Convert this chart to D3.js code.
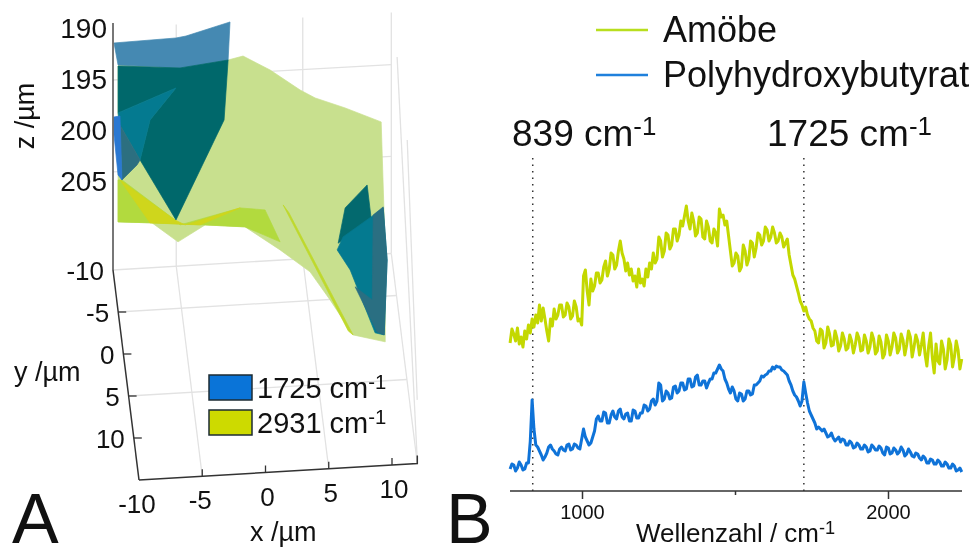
<!DOCTYPE html>
<html lang="de">
<head>
<meta charset="UTF-8">
<title>Raman</title>
<script src="https://cdnjs.cloudflare.com/ajax/libs/d3/7.8.5/d3.min.js"></script>
<style>
  html, body { margin: 0; background: #fff; }
  svg { display: block; filter: blur(0.4px); }
  text { font-family: "Liberation Sans", Arial, sans-serif; fill: #111; }
</style>
</head>
<body>
<div id="chart"></div>
<script>
// spectra: intensity (a.u.), one value every 6 cm-1 from 765 cm-1
var startWavenumber = 765;
var stepWavenumber = 6;
var amoebe = [
148,162,157,150,163,147,154,144,160,152,
166,158,172,164,176,168,186,170,183,172,
160,150,172,165,182,172,176,186,186,174,
176,188,184,172,175,190,184,170,172,166,
215,221,200,186,212,200,205,218,218,208,
211,224,230,215,222,238,236,222,226,240,
250,238,232,220,228,216,222,210,215,204,
222,208,212,205,222,214,228,222,238,228,
232,254,250,234,240,258,256,242,246,262,
262,250,256,270,265,275,285,270,262,278,
270,255,258,274,272,254,252,270,264,250,
248,262,258,245,282,274,276,266,270,255,
240,225,228,238,235,220,224,246,240,226,
232,250,248,234,243,258,256,246,250,264,
261,250,254,264,258,248,250,258,254,244,
248,252,236,226,216,212,205,198,190,186,
180,184,176,172,170,163,160,150,148,162,
160,143,148,164,157,145,146,160,153,140,
145,158,152,141,143,156,150,138,146,158,
153,140,141,156,150,138,144,158,152,137,
140,155,149,133,137,156,150,136,144,158,
153,138,142,157,151,136,146,160,154,134,
144,156,150,136,146,158,137,125,145,158,
133,118,147,130,127,150,142,122,131,152,
146,124,134,150,141,122,132];
var phb = [
22,27,26,20,23,29,26,21,22,28,
28,50,91,62,46,44,40,36,31,34,
38,44,46,42,40,37,36,42,44,41,
40,46,47,41,42,47,46,43,42,52,
62,54,50,46,48,54,60,72,75,70,
70,79,78,68,68,76,80,74,72,80,
82,74,72,77,78,70,70,81,80,73,
73,78,78,86,85,80,82,90,92,86,
90,108,106,90,92,100,98,92,93,104,
105,98,100,108,108,101,102,112,112,104,
105,114,116,106,106,110,110,103,108,112,
112,118,118,122,126,122,120,112,108,102,
98,104,100,92,90,98,97,90,92,100,
100,96,97,106,106,108,110,115,114,116,
117,120,120,124,122,125,124,124,121,120,
118,116,110,106,100,96,94,90,85,90,
109,98,88,80,76,72,68,62,64,62,
60,62,58,54,55,58,53,50,52,54,
49,52,51,46,46,50,48,43,44,48,
46,42,42,46,44,39,40,46,44,41,
41,45,43,38,36,44,43,37,38,43,
41,37,39,44,41,35,37,42,39,35,
34,38,37,33,31,35,33,28,28,32,
31,27,27,31,29,25,25,29,27,23,
23,27,25,20,21,23,19];
var specTicks = [1000, 1500, 2000];
var peaks = [839, 1725];

// panel A: surfaces as [x /um, z /um] seen from the viewing direction
var surfGreen = [[-9.6,193.6],[-0.9,193.04],[0.28,192.65],[2.42,194.02],[4.79,195.98],[5.98,196.76],[8.35,197.74],[11.2,199.11],[11.52,211.66],[11.52,220.67],[8.98,219.99],[7.16,216.56],[5.58,213.81],[3.21,211.66],[0.44,209.4],[-2.72,209.21],[-4.86,210.87],[-6.91,209.01],[-9.6,208.91]];
var surfBright = [[-9.6,204.8],[-9.6,208.91],[-6.91,209.01],[-2.72,209.21],[0.44,209.4],[3.21,210.87],[2.02,207.74],[0.05,207.54],[-4.7,209.21],[-5.1,208.72],[-9.29,204.8]];
var surfYellow = [[-9.45,204.8],[-5.1,208.72],[-4.3,209.21],[0.05,207.54],[-3.12,209.21],[-7.07,209.01]];
var surfYellowEdge = [[3.45,207.25],[3.9,208],[8.98,219.99],[8.6,219.6]];
var surfBlueTop = [[-9.92,191.37],[-5.02,190.88],[-4.23,190.69],[-0.75,189.31],[-0.9,193.04],[-4.7,193.82],[-9.6,193.53]];
var surfTeal = [[-9.6,193.63],[-4.7,193.82],[-0.9,193.04],[-1.22,198.92],[-5.02,208.72],[-7.86,202.84],[-7.07,198.92],[-5.02,195.78],[-9.6,198.23]];
var surfTealLight = [[-9.6,198.23],[-5.02,195.78],[-7.07,198.92],[-7.86,202.84],[-9.45,199.41]];
var surfTealGrey = [[-9.45,199.41],[-7.86,202.84],[-8.1,203.33],[-9.29,204.8]];
var surfBlue = [[-9.92,198.62],[-9.45,198.53],[-9.29,204.8],[-9.6,204.31],[-9.92,200.39]];
var surfRightDark = [[8.35,207.54],[10.09,205.29],[10.41,208.6],[7.8,211]];
var surfRightLight = [[7.72,211.66],[8.19,210.38],[10.41,208.42],[11.36,207.54],[11.67,212.64],[11.44,219.99],[10.72,219.79],[8.75,213.62]];
var surfRightGrey = [[10.57,208.23],[11.36,207.44],[11.67,212.64],[11.44,219.99],[10.88,219.69],[9.14,215.28],[10.49,216.56]];

var xTicks = [-10, -5, 0, 5, 10];
var yTicks = [-10, -5, 0, 5, 10];
var zTicks = [190, 195, 200, 205];
var xGrid = [-5, 5, 12];
var yGrid = [-10, -5, 5];
var zGrid = [195, 204];

var svg = d3.select("#chart").append("svg").attr("width", 977).attr("height", 548);

// ---- panel A ----
var hScale = d3.scaleLinear().domain([-10, 12]).range([113, 391.3]);
var zScale = d3.scaleLinear().domain([190, 205]).range([29, 182]);
var depthX = d3.scaleLinear().domain([-10, 15]).range([113, 139]);
var depthY = d3.scaleLinear().domain([-10, 15]).range([270, 480]);

function floorPt(x, y) {
    return [hScale(x) + depthX(y) - 113, depthY(y) - (x + 10) * 0.75];
}
function wallPt(x, z) {
    return [hScale(x), zScale(z) - (x + 10) * 0.7];
}
var plain = d3.line();
var gridColor = "#e2e2e2";
var panelA = svg.append("g");

function gridLine(a, b) {
    panelA.append("path").attr("d", plain([a, b])).attr("fill", "none")
        .attr("stroke", gridColor).attr("stroke-width", 1.3);
}
xGrid.forEach(function(x) {
    gridLine(wallPt(x, 189.9), floorPt(x, -10));
    gridLine(floorPt(x, -10), floorPt(x, 15));
});
yGrid.forEach(function(y) { gridLine(floorPt(-10, y), floorPt(12, y)); });
zGrid.forEach(function(z) { gridLine(wallPt(-10, z), wallPt(12, z)); });
// side wall lines at the right edge
gridLine([hScale(12.46), zScale(192.75)], [hScale(14.05), zScale(232.24)]);
gridLine([hScale(13.26), zScale(200.88)], [hScale(14.05), zScale(226.36)]);

var poly = d3.line().x(function(d) { return hScale(d[0]); }).y(function(d) { return zScale(d[1]); });
[
    [surfGreen, "#c8e08e"],
    [surfBright, "#b2da3e"],
    [surfYellow, "#cfd61c"],
    [surfYellowEdge, "#bfd92c"],
    [surfBlueTop, "#4589b2"],
    [surfTeal, "#00686b"],
    [surfTealLight, "#047a90"],
    [surfTealGrey, "#2c6f80"],
    [surfBlue, "#2a78d2"],
    [surfRightDark, "#03696e"],
    [surfRightLight, "#047a90"],
    [surfRightGrey, "#2a6f82"]
].forEach(function(s) {
    panelA.append("path").attr("d", poly(s[0]) + "Z").attr("fill", s[1])
        .attr("stroke", s[1]).attr("stroke-width", 0.7);
});

// box axes
var axisColor = "#555";
panelA.append("path").attr("d", plain([[hScale(-10), zScale(189.4)], [hScale(-10), 270]])).attr("stroke", axisColor).attr("stroke-width", 1.6).attr("fill", "none");
panelA.append("path").attr("d", plain([floorPt(-10, -10), floorPt(-10, 15)])).attr("stroke", "#333").attr("stroke-width", 1.5).attr("fill", "none");
panelA.append("path").attr("d", plain([floorPt(-10, 15), floorPt(12, 15), [floorPt(12, 15)[0], floorPt(12, 15)[1] - 8]])).attr("stroke", "#333").attr("stroke-width", 1.5).attr("fill", "none");

xTicks.forEach(function(x) {
    var p = floorPt(x, 15);
    if (x > -10) panelA.append("line").attr("x1", p[0]).attr("x2", p[0]).attr("y1", p[1]).attr("y2", p[1] - 7).attr("stroke", "#333").attr("stroke-width", 1.3);
    panelA.append("text").attr("x", p[0] + (x < 0 ? -2 : 2)).attr("y", p[1] + 33).attr("text-anchor", "middle").attr("font-size", 26).text(x);
});
yTicks.forEach(function(y) {
    var p = floorPt(-10, y);
    if (y > -10) panelA.append("line").attr("x1", p[0]).attr("x2", p[0] + 8).attr("y1", p[1]).attr("y2", p[1]).attr("stroke", "#333").attr("stroke-width", 1.3);
    panelA.append("text").attr("x", p[0] - 9).attr("y", p[1] + 10).attr("text-anchor", "end").attr("font-size", 26).text(y);
});

var zAxis = d3.axisLeft(zScale).tickValues(zTicks).tickSize(0).tickPadding(6);
var zg = panelA.append("g").attr("transform", "translate(113,0)").call(zAxis);
zg.select(".domain").remove();
zg.selectAll("text").attr("font-size", 28).attr("font-family", "Liberation Sans").attr("fill", "#111");

panelA.append("text").attr("transform", "translate(34,116) rotate(-90)").attr("text-anchor", "middle").attr("font-size", 27).text("z /µm");
panelA.append("text").attr("x", 14).attr("y", 381).attr("font-size", 27).text("y /µm");
panelA.append("text").attr("x", 250).attr("y", 541).attr("font-size", 27).text("x /µm");

function withExp(sel, base) {
    sel.append("tspan").text(base);
    sel.append("tspan").attr("dy", "-0.42em").attr("font-size", "0.7em").text("-1");
}
var legendA = [["1725 cm", "#0a74d8", 375], ["2931 cm", "#cdda00", 410]];
legendA.forEach(function(d) {
    panelA.append("rect").attr("x", 209).attr("y", d[2]).attr("width", 43).attr("height", 25)
        .attr("fill", d[1]).attr("stroke", "#1c2b33").attr("stroke-width", 1.5);
    withExp(panelA.append("text").attr("x", 257).attr("y", d[2] + 23).attr("font-size", 29), d[0]);
});

panelA.append("text").attr("x", 12).attr("y", 543).attr("font-size", 70).text("A");

// ---- panel B ----
var xSpec = d3.scaleLinear().domain([1000, 2000]).range([582, 888]);
var ySpec = d3.scaleLinear().domain([0, 340]).range([491, 151]);
var panelB = svg.append("g");

peaks.forEach(function(p) {
    panelB.append("line").attr("x1", xSpec(p)).attr("x2", xSpec(p)).attr("y1", 158).attr("y2", 491)
        .attr("stroke", "#333").attr("stroke-width", 1.5).attr("stroke-dasharray", "1.5 5");
});

function specLine(vals) {
    return d3.line()
        .x(function(d, i) { return xSpec(startWavenumber + i * stepWavenumber); })
        .y(function(d) { return ySpec(d); })(vals);
}
panelB.append("path").attr("d", specLine(amoebe)).attr("fill", "none").attr("stroke", "#c3d800").attr("stroke-width", 3).attr("stroke-linejoin", "round");
panelB.append("path").attr("d", specLine(phb)).attr("fill", "none").attr("stroke", "#0f73d8").attr("stroke-width", 3).attr("stroke-linejoin", "round");

var xAxis = d3.axisBottom(xSpec).tickValues(specTicks).tickSizeOuter(0).tickSize(0)
    .tickFormat(function(d) { return d == 1500 ? "" : d; }).tickPadding(14);
var xg = panelB.append("g").attr("transform", "translate(0,491)").call(xAxis);
xg.select(".domain").attr("d", plain([[510, 0], [962, 0]])).attr("stroke", "#333").attr("stroke-width", 1.5);
xg.selectAll(".tick line").attr("y2", function(d) { return d == 1500 ? 4 : 8; }).attr("stroke", "#333").attr("stroke-width", 1.5);
xg.selectAll("text").attr("font-size", 20).attr("font-family", "Liberation Sans").attr("fill", "#333");

withExp(panelB.append("text").attr("x", 636).attr("y", 542).attr("font-size", 26), "Wellenzahl / cm");
withExp(panelB.append("text").attr("x", 512).attr("y", 146).attr("font-size", 37), "839 cm");
withExp(panelB.append("text").attr("x", 767).attr("y", 146).attr("font-size", 37), "1725 cm");

var legendB = [["Amöbe", "#b8de1e", 30], ["Polyhydroxybutyrat", "#1f80dc", 75]];
legendB.forEach(function(d) {
    panelB.append("line").attr("x1", 596).attr("x2", 648).attr("y1", d[2]).attr("y2", d[2]).attr("stroke", d[1]).attr("stroke-width", 2.5);
    panelB.append("text").attr("x", 663).attr("y", d[2] + 12).attr("font-size", 36).text(d[0]);
});

panelB.append("text").attr("x", 446).attr("y", 543).attr("font-size", 70).text("B");
</script>
</body>
</html>
